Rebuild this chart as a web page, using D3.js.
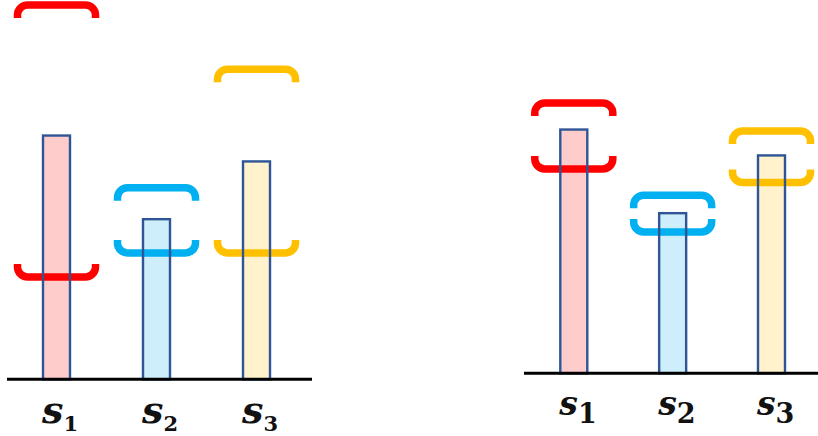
<!doctype html>
<html lang="en">

<head>
    <style>
        body {
            margin: 0;
            background: white;
        }

        .label {
            font-family: "DejaVu Serif", serif;
            fill: #111;
        }
    </style>

    <script src="https://d3js.org/d3.v7.min.js"></script>
</head>

<body>
    <svg width="818" height="436"></svg>

    <script>
        // data
        const categories = ["s1", "s2", "s3"];
        const barValues = [6.5, 4.27, 5.81];

        // left panel: wide intervals
        const leftUpper = [9.98, 5.11, 8.27];
        const leftLower = [2.73, 3.37, 3.37];

        // right panel: narrow intervals
        const rightUpper = [7.21, 4.75, 6.46];
        const rightLower = [5.45, 3.77, 5.09];

        const barFill = ["#ffcccc", "#cdeefa", "#fff2cc"];
        const bracketColor = ["#ff0000", "#00b0f0", "#ffc000"];

        const svg = d3.select("svg");

        const panels = [
            { base: 379.3, x0: 7, x1: 312, first: 56.5, last: 256.5, upper: leftUpper, lower: leftLower,
              sSize: 38, subSize: 21, labelY: 423, subDy: 8 },
            { base: 373.3, x0: 524, x1: 818, first: 573.8, last: 771.5, upper: rightUpper, lower: rightLower,
              sSize: 33, subSize: 27, labelY: 415, subDy: 8 }
        ];

        const barW = 27;
        const half = 39;   // half-width of bracket
        const arm = 13;
        const r = 10;

        function bracket(cx, y, dir) {
            // dir = 1 -> arms go down (upper bound), -1 -> arms go up (lower bound)
            const a = cx - half, b = cx + half;
            const sw = dir === 1 ? 1 : 0;
            return `M${a},${y + dir * arm} L${a},${y + dir * r} A${r},${r} 0 0 ${sw} ${a + r},${y}` +
                ` L${b - r},${y} A${r},${r} 0 0 ${sw} ${b},${y + dir * r} L${b},${y + dir * arm}`;
        }

        panels.forEach(p => {
            const x = d3.scalePoint()
                .domain(categories)
                .range([p.first, p.last]);

            const y = d3.scaleLinear()
                .domain([0, 10])
                .range([p.base, p.base - 375]);

            const rows = categories.map((c, i) => ({
                cat: c, value: barValues[i], upper: p.upper[i], lower: p.lower[i], i: i
            }));

            const g = svg.append("g");

            g.selectAll(".bar-fill")
                .data(rows)
                .enter()
                .append("rect")
                .attr("x", d => x(d.cat) - barW / 2)
                .attr("y", d => y(d.value))
                .attr("width", barW)
                .attr("height", d => p.base - y(d.value))
                .attr("fill", d => barFill[d.i]);

            g.selectAll(".up")
                .data(rows)
                .enter()
                .append("path")
                .attr("d", d => bracket(x(d.cat), y(d.upper), 1))
                .attr("fill", "none")
                .attr("stroke", d => bracketColor[d.i])
                .attr("stroke-width", 7.5);

            g.selectAll(".low")
                .data(rows)
                .enter()
                .append("path")
                .attr("d", d => bracket(x(d.cat), y(d.lower), -1))
                .attr("fill", "none")
                .attr("stroke", d => bracketColor[d.i])
                .attr("stroke-width", 7.5);

            g.selectAll(".bar-line")
                .data(rows)
                .enter()
                .append("rect")
                .attr("x", d => x(d.cat) - barW / 2)
                .attr("y", d => y(d.value))
                .attr("width", barW)
                .attr("height", d => p.base - y(d.value))
                .attr("fill", "none")
                .attr("stroke", "#2f5597")
                .attr("stroke-width", 2.4);

            g.append("line")
                .attr("x1", p.x0)
                .attr("x2", p.x1)
                .attr("y1", p.base)
                .attr("y2", p.base)
                .attr("stroke", "black")
                .attr("stroke-width", 3);

            const labels = g.selectAll(".label")
                .data(rows)
                .enter()
                .append("text")
                .attr("class", "label")
                .attr("x", d => x(d.cat) - barW / 2 - 1)
                .attr("y", p.labelY);

            labels.append("tspan")
                .style("font-style", "italic")
                .style("font-weight", "bold")
                .style("font-size", p.sSize + "px")
                .text("s");

            labels.append("tspan")
                .attr("dy", p.subDy)
                .style("font-size", p.subSize + "px")
                .style("font-weight", "bold")
                .text(d => d.cat.slice(1));
        });
    </script>
</body>
</html>
